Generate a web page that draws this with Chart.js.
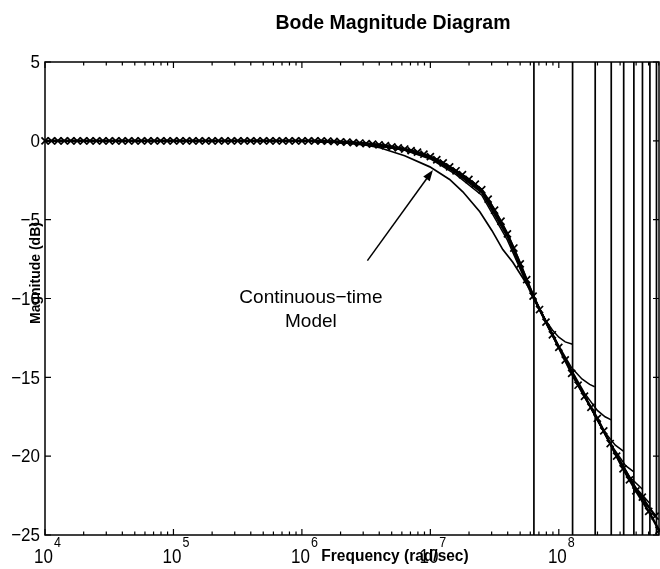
<!DOCTYPE html>
<html>
<head>
<meta charset="utf-8">
<script src="https://cdn.jsdelivr.net/npm/chart.js@4.4.0/dist/chart.umd.min.js"></script>
<style>
  html, body { margin: 0; padding: 0; background: #fff; }
</style>
</head>
<body>
<canvas id="bode" width="660" height="569"></canvas>
<script>
// frequencies are given as log10(rad/sec), magnitudes in dB

// continuous model, two marked traces (x markers)
const mainLogF = [4.0, 4.1, 4.2, 4.3, 4.4, 4.5, 4.6, 4.7, 4.8, 4.9, 5.0, 5.1, 5.2, 5.3, 5.4, 5.5, 5.6, 5.7, 5.8, 5.9, 6.0, 6.1,
  6.2, 6.3, 6.4, 6.5, 6.6, 6.7, 6.8, 6.9, 7.0, 7.1, 7.2, 7.3, 7.4, 7.5, 7.6, 7.7, 7.8, 7.9, 8.0, 8.1, 8.2, 8.3, 8.4, 8.5, 8.6, 8.7, 8.78];
const mainDb = [0, 0, 0, 0, 0, 0, 0, 0, 0, 0, 0, 0, 0, 0, 0, 0, 0, 0, 0, 0, 0, 0,
  -0.02, -0.06, -0.11, -0.17, -0.25, -0.38, -0.52, -0.72, -1.0, -1.4, -1.9, -2.45, -3.1, -4.4, -5.9, -7.8, -9.85, -11.5, -13.1, -14.75, -16.2, -17.6, -19.2, -20.8, -22.2, -23.5, -24.7];

const markLogF = [4.05, 4.15, 4.25, 4.35, 4.45, 4.55, 4.65, 4.75, 4.85, 4.95, 5.05, 5.15, 5.25, 5.35, 5.45, 5.55, 5.65, 5.75, 5.85, 5.95, 6.05, 6.15,
  6.25, 6.35, 6.45, 6.55, 6.65, 6.75, 6.85, 6.95, 7.05, 7.15, 7.25, 7.35, 7.45, 7.55, 7.65, 7.75, 7.85, 7.95, 8.05, 8.15, 8.25, 8.35, 8.45, 8.55, 8.65, 8.75];
const markDb = [0, 0, 0, 0, 0, 0, 0, 0, 0, 0, 0, 0, 0, 0, 0, 0, 0, 0, 0, 0, 0, 0,
  -0.04, -0.08, -0.14, -0.21, -0.31, -0.45, -0.62, -0.85, -1.2, -1.65, -2.15, -2.75, -3.7, -5.1, -6.8, -8.8, -10.7, -12.3, -13.9, -15.5, -16.9, -18.4, -20.0, -21.5, -22.6, -23.8];

// slowest discrete model, sags below the rest and stops at its Nyquist line
const slowLogF = [4.0, 6.0, 6.3, 6.5, 6.607, 6.8, 6.996, 7.15, 7.253, 7.385, 7.48, 7.564, 7.642, 7.72, 7.806];
const slowDb = [0, 0, -0.1, -0.28, -0.44, -0.95, -1.65, -2.45, -3.23, -4.5, -5.7, -6.9, -7.7, -8.7, -9.85];

// faster discrete models, each flattens out before its Nyquist line
const fastLogF = [
  [4.0, 6.0, 6.5, 6.8, 7.0, 7.2, 7.4, 7.6, 7.8, 7.9, 7.95, 8.0, 8.05, 8.107],
  [4.0, 6.0, 6.5, 6.8, 7.0, 7.2, 7.4, 7.6, 7.8, 8.0, 8.1, 8.18, 8.24, 8.279],
  [4.0, 6.0, 6.5, 6.8, 7.0, 7.2, 7.4, 7.6, 7.8, 8.0, 8.2, 8.3, 8.36, 8.408],
  [4.0, 6.0, 6.5, 6.8, 7.0, 7.2, 7.4, 7.6, 7.8, 8.0, 8.2, 8.35, 8.44, 8.505],
  [4.0, 6.0, 6.5, 6.8, 7.0, 7.2, 7.4, 7.6, 7.8, 8.0, 8.2, 8.4, 8.52, 8.584],
  [4.0, 6.0, 6.5, 6.8, 7.0, 7.2, 7.4, 7.6, 7.8, 8.0, 8.2, 8.4, 8.55, 8.651],
  [4.0, 6.0, 6.5, 6.8, 7.0, 7.2, 7.4, 7.6, 7.8, 8.0, 8.2, 8.4, 8.6, 8.709],
  [4.0, 6.0, 6.5, 6.8, 7.0, 7.2, 7.4, 7.6, 7.8, 8.0, 8.2, 8.4, 8.65, 8.76]
];
const fastDb = [
  [0, 0, -0.2, -0.6, -1.15, -2.15, -3.45, -6.3, -10.0, -11.4, -12.0, -12.45, -12.75, -12.9],
  [0, 0, -0.19, -0.57, -1.1, -2.05, -3.3, -6.1, -9.9, -13.0, -14.4, -15.1, -15.45, -15.6],
  [0, 0, -0.18, -0.55, -1.06, -2.0, -3.2, -6.0, -9.9, -13.1, -16.0, -17.1, -17.5, -17.7],
  [0, 0, -0.18, -0.54, -1.03, -1.95, -3.15, -5.95, -9.85, -13.1, -16.2, -18.4, -19.3, -19.7],
  [0, 0, -0.17, -0.53, -1.02, -1.92, -3.12, -5.92, -9.85, -13.1, -16.2, -19.2, -20.6, -21.0],
  [0, 0, -0.17, -0.52, -1.01, -1.91, -3.11, -5.91, -9.85, -13.1, -16.2, -19.2, -21.3, -22.1],
  [0, 0, -0.17, -0.52, -1.0, -1.9, -3.1, -5.9, -9.85, -13.1, -16.2, -19.2, -22.0, -23.0],
  [0, 0, -0.17, -0.52, -1.0, -1.9, -3.1, -5.9, -9.85, -13.1, -16.2, -19.2, -22.8, -23.8]
];

// Nyquist frequency of each sampled model (rad/sec)
const nyquistFreqs = [6.4e7, 1.28e8, 1.92e8, 2.56e8, 3.2e8, 3.84e8, 4.48e8, 5.12e8, 5.76e8];

// axes
const yTicks = [5, 0, -5, -10, -15, -20, -25];
const xDecades = [4, 5, 6, 7, 8];
const xMaxLog = 8.78;

const FONT = '"Liberation Sans", Arial, Helvetica, sans-serif';

function pts(logF, db) {
  return logF.map((l, i) => ({ x: Math.pow(10, l), y: db[i] }));
}

const datasets = [];

nyquistFreqs.forEach(f => {
  datasets.push({ data: [{ x: f, y: 5 }, { x: f, y: -25 }], borderColor: '#000', borderWidth: 1.7, pointRadius: 0 });
});

datasets.push({ data: pts(slowLogF, slowDb), borderColor: '#000', borderWidth: 1.7, pointRadius: 0 });

fastLogF.forEach((lf, i) => {
  datasets.push({ data: pts(lf, fastDb[i]), borderColor: '#000', borderWidth: 1.5, pointRadius: 0 });
});

datasets.push({
  data: pts(mainLogF, mainDb), borderColor: '#000', borderWidth: 2.4,
  pointStyle: 'crossRot', pointRadius: 5, pointBorderWidth: 1.7, pointBorderColor: '#000', clip: 8
});
datasets.push({
  data: pts(markLogF, markDb), borderColor: '#000', borderWidth: 2,
  pointStyle: 'crossRot', pointRadius: 5, pointBorderWidth: 1.7, pointBorderColor: '#000', clip: 8
});

function drawText(ctx, str, x, y, font, align, sy) {
  ctx.save();
  ctx.translate(x, y);
  ctx.scale(1, sy || 1);
  ctx.font = font;
  ctx.textAlign = align;
  ctx.textBaseline = 'middle';
  ctx.fillStyle = '#000';
  ctx.fillText(str, 0, 0);
  ctx.restore();
}

// frame, inward ticks, labels and the annotation arrow
const decorPlugin = {
  id: 'decor',
  afterDraw(chart) {
    const ctx = chart.ctx;
    const a = chart.chartArea;
    const xs = chart.scales.x, ys = chart.scales.y;
    ctx.save();
    ctx.strokeStyle = '#000';
    ctx.lineWidth = 1.5;
    ctx.strokeRect(a.left, a.top, a.right - a.left, a.bottom - a.top);

    // x ticks (top and bottom), major + minor
    ctx.lineWidth = 1.2;
    ctx.beginPath();
    xDecades.forEach(d => {
      for (let m = 1; m <= 9; m++) {
        const v = m * Math.pow(10, d);
        if (Math.log10(v) > xMaxLog) break;
        const px = xs.getPixelForValue(v);
        const len = m === 1 ? 6 : 3.5;
        ctx.moveTo(px, a.bottom); ctx.lineTo(px, a.bottom - len);
        ctx.moveTo(px, a.top); ctx.lineTo(px, a.top + len);
      }
    });
    yTicks.forEach(t => {
      const py = ys.getPixelForValue(t);
      ctx.moveTo(a.left, py); ctx.lineTo(a.left + 6, py);
      ctx.moveTo(a.right, py); ctx.lineTo(a.right - 6, py);
    });
    ctx.stroke();

    // y tick labels
    yTicks.forEach(t => {
      const py = ys.getPixelForValue(t);
      const s = t < 0 ? '\u2212' + Math.abs(t) : String(t);
      drawText(ctx, s, a.left - 5, py + 1, '17px ' + FONT, 'right', 1.12);
    });

    // x tick labels 10^n
    xDecades.forEach(d => {
      const px = xs.getPixelForValue(Math.pow(10, d));
      ctx.font = '17px ' + FONT;
      const w1 = ctx.measureText('10').width;
      ctx.font = '12.5px ' + FONT;
      const w2 = ctx.measureText(String(d)).width;
      const left = px - (w1 + w2) / 2 + 2;
      drawText(ctx, '10', left, a.bottom + 23, '17px ' + FONT, 'left', 1.15);
      drawText(ctx, String(d), left + w1 + 1, a.bottom + 8, '12.5px ' + FONT, 'left', 1.15);
    });

    // titles
    drawText(ctx, 'Bode Magnitude Diagram', 393, 23, 'bold 19.5px ' + FONT, 'center', 1.08);
    drawText(ctx, 'Frequency (rad/sec)', 395, a.bottom + 21, 'bold 15.5px ' + FONT, 'center', 1.1);
    ctx.save();
    ctx.translate(36, 273);
    ctx.rotate(-Math.PI / 2);
    ctx.font = 'bold 14px ' + FONT;
    ctx.textAlign = 'center';
    ctx.textBaseline = 'middle';
    ctx.fillStyle = '#000';
    ctx.fillText('Magnitude (dB)', 0, 0);
    ctx.restore();

    // annotation
    const tx = xs.getPixelForValue(Math.pow(10, 6.07));
    drawText(ctx, 'Continuous\u2212time', tx, ys.getPixelForValue(-9.96), '19px ' + FONT, 'center', 1);
    drawText(ctx, 'Model', tx, ys.getPixelForValue(-11.5), '19px ' + FONT, 'center', 1);

    const x0 = xs.getPixelForValue(Math.pow(10, 6.51)), y0 = ys.getPixelForValue(-7.6);
    const x1 = xs.getPixelForValue(Math.pow(10, 7.02)), y1 = ys.getPixelForValue(-1.85);
    const ang = Math.atan2(y1 - y0, x1 - x0);
    ctx.lineWidth = 1.5;
    ctx.beginPath();
    ctx.moveTo(x0, y0);
    ctx.lineTo(x1 - 8 * Math.cos(ang), y1 - 8 * Math.sin(ang));
    ctx.stroke();
    ctx.beginPath();
    ctx.moveTo(x1, y1);
    ctx.lineTo(x1 - 11 * Math.cos(ang) + 4 * Math.sin(ang), y1 - 11 * Math.sin(ang) - 4 * Math.cos(ang));
    ctx.lineTo(x1 - 11 * Math.cos(ang) - 4 * Math.sin(ang), y1 - 11 * Math.sin(ang) + 4 * Math.cos(ang));
    ctx.closePath();
    ctx.fillStyle = '#000';
    ctx.fill();
    ctx.restore();
  }
};

new Chart(document.getElementById('bode'), {
  type: 'scatter',
  data: { datasets },
  options: {
    responsive: false,
    animation: false,
    devicePixelRatio: 1,
    layout: { autoPadding: false, padding: { left: 45, right: 1, top: 62, bottom: 34 } },
    elements: { line: { tension: 0 }, point: { radius: 0 } },
    datasets: { scatter: { showLine: true } },
    plugins: { legend: { display: false }, tooltip: { enabled: false } },
    scales: {
      x: { type: 'logarithmic', min: 1e4, max: Math.pow(10, xMaxLog), display: false },
      y: { min: -25, max: 5, display: false }
    }
  },
  plugins: [decorPlugin]
});
</script>
</body>
</html>
